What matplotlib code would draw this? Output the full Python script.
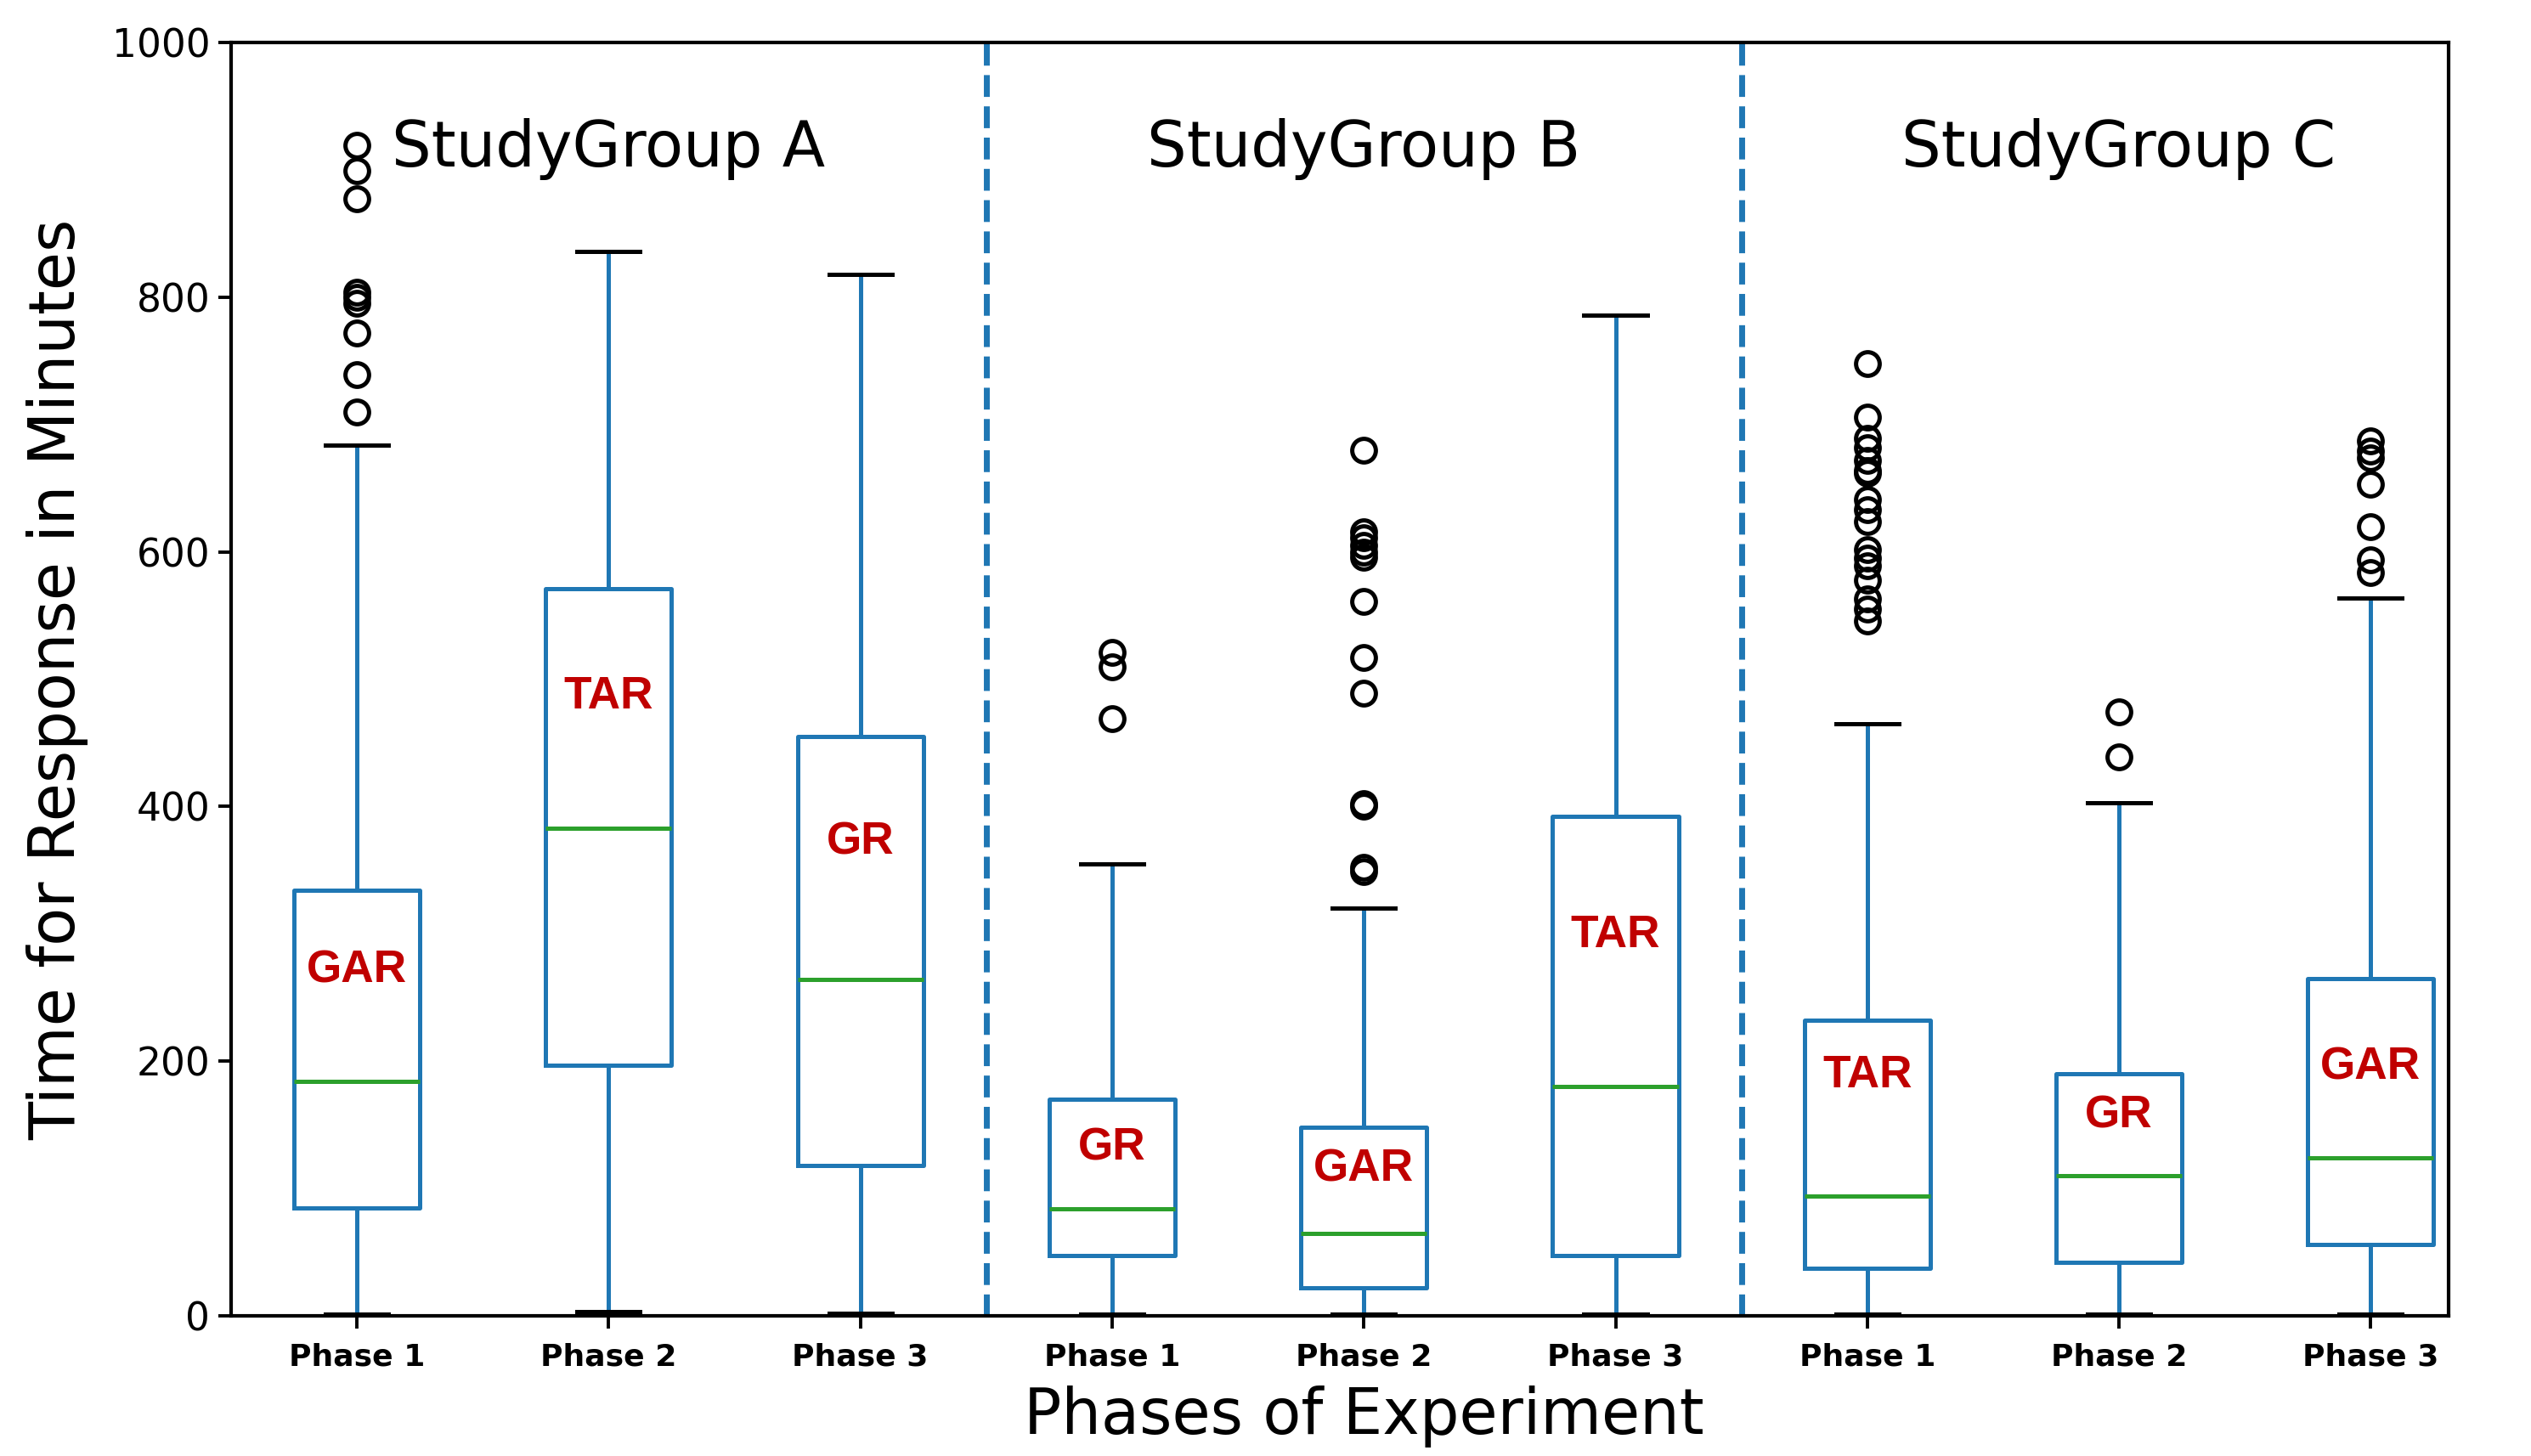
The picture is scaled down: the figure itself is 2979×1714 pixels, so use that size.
import matplotlib
matplotlib.use("Agg")
import matplotlib.pyplot as plt

positions = [1, 2, 3, 4, 5, 6, 7, 8, 9]
tick_labels = ["Phase 1", "Phase 2", "Phase 3"] * 3
groups = ["StudyGroup A", "StudyGroup B", "StudyGroup C"]
group_centers = [2, 5, 8]

q1 = [85, 197, 118, 47, 22, 47, 37, 42, 56]
med = [184, 383, 264, 84, 65, 180, 94, 110, 124]
q3 = [334, 571, 455, 170, 148, 392, 232, 190, 265]
whislo = [1, 3, 2, 1, 1, 1, 1, 1, 1]
whishi = [684, 836, 818, 355, 320, 786, 465, 403, 564]
fliers = [
    [919, 899, 877, 804, 800, 795, 772, 739, 710],
    [],
    [],
    [521, 510, 469],
    [680, 616, 611, 605, 600, 596, 561, 517, 489, 402, 400, 352, 349],
    [],
    [748, 706, 689, 682, 672, 664, 662, 641, 633, 624, 602, 595, 589, 578, 563, 555, 546],
    [474, 439],
    [687, 679, 674, 653, 620, 594, 584],
]
box_labels = ["GAR", "TAR", "GR", "GR", "GAR", "TAR", "TAR", "GR", "GAR"]
box_label_y = [271, 486, 372, 132, 115, 299, 189, 157, 195]

fig = plt.figure(figsize=(14.895, 8.57), dpi=200)
ax = fig.add_axes([0.0913, 0.0963, 0.9675 - 0.0913, 0.9708 - 0.0963])

stats = []
for i in range(len(positions)):
    stats.append(dict(q1=q1[i], med=med[i], q3=q3[i], whislo=whislo[i],
                      whishi=whishi[i], fliers=fliers[i]))

lw = 1.8
ax.bxp(stats, positions=positions, widths=0.5, showfliers=True,
       boxprops=dict(color="#1f77b4", linewidth=lw),
       whiskerprops=dict(color="#1f77b4", linewidth=lw),
       medianprops=dict(color="#2ca02c", linewidth=lw),
       capprops=dict(color="black", linewidth=lw),
       flierprops=dict(marker="o", markerfacecolor="none",
                       markeredgecolor="black", markersize=10,
                       markeredgewidth=1.8, linestyle="none"))

for xline in [3.5, 6.5]:
    ax.axvline(xline, color="#1f77b4", linestyle="--", linewidth=2.5)

for name, cx in zip(groups, group_centers):
    ax.text(cx, 916, name, ha="center", va="center", fontsize=26.5)

for p, lab, y in zip(positions, box_labels, box_label_y):
    ax.text(p, y, lab, ha="center", va="center", fontsize=19.2,
            fontweight="bold", color="#c00000",
            family=["Liberation Sans", "DejaVu Sans"])

ax.set_xlim(0.5, 9.31)
ax.set_ylim(0, 1000)
ax.set_yticks([0, 200, 400, 600, 800, 1000])
ax.set_xticks(positions)
ax.set_xticklabels(tick_labels, fontsize=13, fontweight="bold")
ax.tick_params(axis="y", labelsize=16.4, length=5.4, width=1.4)
ax.tick_params(axis="x", length=5.4, width=1.4, pad=5.8)
for s in ax.spines.values():
    s.set_linewidth(1.5)

ax.set_xlabel("Phases of Experiment", fontsize=26.5, labelpad=7)
ax.xaxis.set_label_coords(0.511, -0.055, transform=ax.transAxes)
ax.xaxis.label.set_va("top")
ax.set_ylabel("Time for Response in Minutes", fontsize=26.5, labelpad=10)

fig.savefig("out.png", dpi=200)
